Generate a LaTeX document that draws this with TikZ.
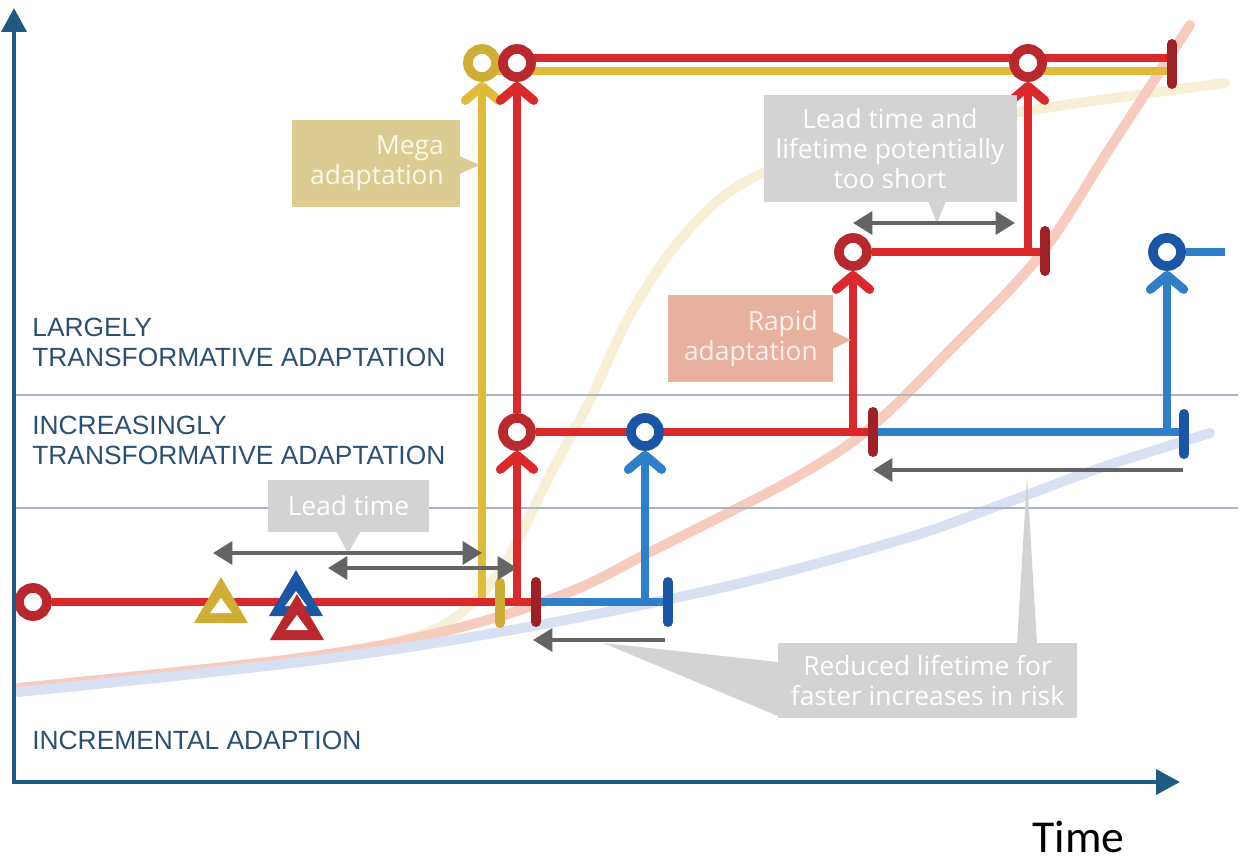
\documentclass[tikz,border=0pt]{standalone}
\usepackage{fontspec}
\setmainfont{Open Sans}
\newfontfamily\catfont{Liberation Sans}
\newfontfamily\timefont{Carlito}
\usepackage{tikz}
\usetikzlibrary{arrows.meta}
\definecolor{axisblue}{RGB}{31,90,130}
\definecolor{cattext}{RGB}{42,80,115}
\definecolor{gridgrey}{RGB}{170,180,198}
\definecolor{redl}{RGB}{218,40,43}
\definecolor{redd}{RGB}{184,40,44}
\definecolor{redk}{RGB}{160,32,40}
\definecolor{goldl}{RGB}{224,187,58}
\definecolor{goldd}{RGB}{206,174,52}
\definecolor{bluel}{RGB}{46,127,200}
\definecolor{blued}{RGB}{26,86,165}
\definecolor{arrowgrey}{RGB}{100,100,100}
\definecolor{boxgrey}{RGB}{211,211,211}
\definecolor{megatan}{RGB}{220,204,146}
\definecolor{megatext}{RGB}{252,248,232}
\definecolor{rapidpink}{RGB}{232,176,158}
\definecolor{rapidtext}{RGB}{253,240,234}
\definecolor{fgold}{RGB}{248,240,214}
\definecolor{fred}{RGB}{247,204,190}
\definecolor{fblue}{RGB}{216,224,244}
\pgfdeclarelayer{back}
\pgfdeclarelayer{mid}
\pgfsetlayers{back,mid,main}
\tikzset{
  pics/tri/.style={code={
    \fill[#1] (0,-31) -- (27,15) -- (-27,15) -- cycle;
    \fill[white] (0,-10) -- (11,5) -- (-11,5) -- cycle;}},
  pics/bar/.style={code={
    \draw[line width=5.7pt, line cap=round, draw=#1] (0,-20) -- (0,20);}},
  >={Triangle[length=11pt,width=13pt]}
}

\begin{document}
\begin{tikzpicture}[
    x=0.02cm, y=-0.02cm,
    lane/.style={line width=5.1pt, draw=#1},
    up/.style={-{Straight Barb[length=8pt,width=19pt,round]}},
    ring/.style={circle, draw=#1, fill=white, line width=5.5pt, minimum size=16pt, inner sep=0pt},
    faint/.style={line width=5.7pt, draw=#1, line cap=round},
    gline/.style={line width=1.4pt, draw=gridgrey},
    garr/.style={line width=2.3pt, draw=arrowgrey},
    cat/.style={font=\catfont\fontsize{15}{17}\selectfont, text=cattext, align=left, inner sep=0pt, anchor=west},
    lbl/.style={fill=#1, text=white, font=\fontsize{15}{17}\selectfont, inner sep=0pt}
]
\useasboundingbox (0,0) rectangle (1240,865);

% risk curves and zone lines
\begin{pgfonlayer}{back}
\draw[faint=fgold] plot[smooth, tension=0.6] coordinates {(18,690) (300,660) (420,635) (470,605) (507,560) (550,475) (590,400) (630,315) (680,240) (740,185) (830,150) (1000,115) (1225,83)};
\draw[faint=fred] plot[smooth, tension=0.6] coordinates {(18,688) (300,658) (450,630) (567,593) (650,552) (720,517) (800,475) (870,428) (950,350) (1040,255) (1110,148) (1190,25)};
\draw[faint=fblue] plot[smooth, tension=0.6] coordinates {(18,692) (300,662) (500,632) (720,588) (900,540) (1000,505) (1100,468) (1210,433)};
\draw[gline] (14,395) -- (1238,395);
\draw[gline] (14,508) -- (1238,508);
\end{pgfonlayer}

% decision points
\node[ring=redd] (r0) at (33,602) {};
\node[ring=goldd] (y1) at (482,63) {};
\node[ring=redd] (r1) at (517,432) {};
\node[ring=redd] (r2) at (517,63) {};
\node[ring=blued] (b1) at (645,432) {};
\node[ring=redd] (r3) at (853,252) {};
\node[ring=redd] (r4) at (1028,63) {};
\node[ring=blued] (b2) at (1167,252) {};

% pathways
\begin{pgfonlayer}{mid}
\draw[lane=goldl, up] (482,602) -- (y1.south);
\draw[lane=goldl] (482,71) -- (1172,71);
\draw[lane=redl] (517,58) -- (1172,58);
\draw[lane=redl] (r0) -- (536,602);
\draw[lane=bluel] (536,602) -- (668,602);
\draw[lane=redl, up] (517,602) -- (r1.south);
\draw[lane=redl, up] (r1) -- (r2.south);
\draw[lane=redl] (r1) -- (873,432);
\draw[lane=bluel, up] (645,602) -- (b1.south);
\draw[lane=redl, up] (853,432) -- (r3.south);
\draw[lane=redl] (r3) -- (1045,252);
\draw[lane=redl, up] (1028,252) -- (r4.south);
\draw[lane=bluel] (873,432) -- (1184,432);
\draw[lane=bluel, up] (1167,432) -- (b2.south);
\draw[lane=bluel] (b2) -- (1225,252);
\end{pgfonlayer}

% end of lifetime marks
\pic at (500,603) {bar=goldd};
\pic at (536,602) {bar=redk};
\pic at (668,602) {bar=blued};
\pic at (873,432) {bar=redk};
\pic at (1184,434) {bar=blued};
\pic at (1045,251) {bar=redk};
\pic at (1172,64) {bar=redk};

% trigger points
\pic at (221,608) {tri=goldd};
\pic at (296,601) {tri=blued};
\pic at (297,625) {tri=redd};

% callouts
\node[lbl=boxgrey, minimum width=91.3pt, minimum height=29.5pt] (lead) at (348.5,506) {Lead time};
\fill[boxgrey] (336,531) -- (361,531) -- (348,553) -- cycle;
\node[lbl=megatan, text=megatext, text width=77.2pt, align=right, inner xsep=9pt, minimum height=49.3pt] (mega) at (376,163.5) {Mega\\adaptation};
\fill[megatan] (459,156) -- (480,165) -- (459,174) -- cycle;
\node[lbl=rapidpink, text=rapidtext, text width=76.5pt, align=right, inner xsep=8.5pt, minimum height=49.3pt] (rapid) at (750.5,338.5) {Rapid\\adaptation};
\fill[rapidpink] (832,331) -- (851,340) -- (832,349) -- cycle;
\node[lbl=boxgrey, align=center, minimum width=144pt, minimum height=60.7pt] (short) at (890,148.5) {Lead time and\\lifetime potentially\\too short};
\fill[boxgrey] (928,201) -- (946,201) -- (937,223) -- cycle;
\node[lbl=boxgrey, align=center, minimum width=170.6pt, minimum height=42.5pt] (reduced) at (927.5,680.5) {Reduced lifetime for\\faster increases in risk};
\fill[boxgrey] (1017,644) -- (1037,644) -- (1027,477) -- cycle;
\fill[boxgrey] (778,662) -- (603,643) -- (778,716) -- cycle;

% time spans
\draw[garr, <->] (213,553) -- (482,553);
\draw[garr, <->] (328,568) -- (517,568);
\draw[garr, <->] (853,223) -- (1015,223);
\draw[garr, ->] (665,640) -- (533,640);
\draw[garr, ->] (1183,470) -- (873,470);

% zone names
\node[cat] (largely) at (32,342) {LARGELY\\TRANSFORMATIVE ADAPTATION};
\node[cat] (increasing) at (32,440.5) {INCREASINGLY\\TRANSFORMATIVE ADAPTATION};
\node[cat] (incremental) at (32,740) {INCREMENTAL ADAPTION};

% axes
\draw[line width=2.6pt, draw=axisblue,
      {Triangle[length=13.6pt,width=14pt]}-{Triangle[length=13.6pt,width=14pt]}]
      (14,8) -- (14,782) -- (1180,782);
\node[font=\timefont\fontsize{26}{30}\selectfont, anchor=base west, inner sep=0pt] (time) at (1032,852) {Time};
\end{tikzpicture}
\end{document}
